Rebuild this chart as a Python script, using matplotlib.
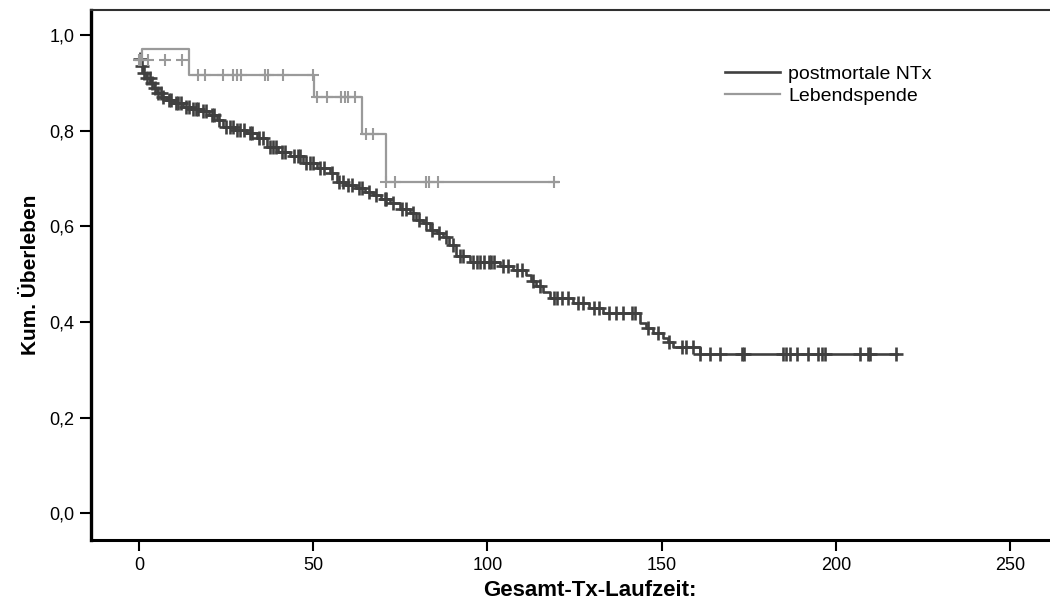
import numpy as np
import matplotlib.pyplot as plt

# Kaplan-Meier: postmortale NTx vs. Lebendspende
plt.rcParams['font.family'] = ['Liberation Sans', 'DejaVu Sans']

# postmortale NTx: event times and survival after each event
pm_time = [0, 0.5, 1.2, 2.0, 3.2, 4.2, 5.1, 6.5, 7.9, 10.0, 12.7, 15.0, 17.5, 20.0,
           22.3, 24.2, 27.5, 30.9, 33.8, 36.6, 40.0, 43.3, 47.1, 51.0, 54.8, 56.7,
           59.5, 62.4, 65.0, 67.2, 69.5, 72.0, 74.9, 77.7, 79.6, 81.5, 83.5, 85.5,
           87.3, 89.0, 91.1, 94.9, 103.5, 107.3, 111.2, 112.5, 114.0, 116.0, 117.9,
           124.5, 129.3, 133.1, 143.7, 145.5, 147.5, 150.4, 151.8, 153.2, 160.9, 217.5]
pm_surv = [0.950, 0.935, 0.920, 0.910, 0.899, 0.888, 0.878, 0.870, 0.864, 0.857, 0.850,
           0.846, 0.840, 0.832, 0.822, 0.808, 0.801, 0.794, 0.784, 0.766, 0.756, 0.746,
           0.732, 0.722, 0.711, 0.693, 0.686, 0.679, 0.672, 0.666, 0.657, 0.648, 0.637,
           0.627, 0.613, 0.606, 0.592, 0.585, 0.578, 0.560, 0.537, 0.526, 0.516, 0.509,
           0.498, 0.486, 0.474, 0.462, 0.450, 0.439, 0.429, 0.418, 0.397, 0.387, 0.376,
           0.366, 0.357, 0.348, 0.332, 0.332]
pm_cens = [0.3, 0.8, 1.5, 2.4, 3.0, 3.8, 4.5, 5.5, 6.2, 7.0, 8.5, 9.3, 10.5, 11.2, 12.0,
           13.5, 14.3, 15.5, 16.2, 17.0, 18.4, 19.2, 20.8, 21.5, 23.0, 25.0, 26.0, 27.0,
           28.2, 29.0, 30.0, 31.8, 32.5, 34.5, 35.5, 37.5, 38.5, 39.2, 41.0, 42.0, 44.5,
           45.5, 46.2, 48.0, 49.0, 50.0, 52.0, 53.0, 55.5, 57.5, 58.5, 60.0, 61.0, 63.0,
           64.0, 66.0, 68.0, 70.5, 71.0, 73.0, 75.5, 76.5, 78.5, 80.5, 82.5, 84.0, 86.0,
           88.0, 90.0, 92.0, 93.0, 96.0, 97.0, 98.0, 99.0, 100.5, 101.0, 102.0, 104.5,
           106.0, 108.5, 110.0, 113.0, 115.0, 119.0, 120.0, 121.5, 123.0, 126.0, 127.5,
           130.5, 132.0, 135.0, 137.0, 139.0, 141.5, 142.5, 146.0, 149.0, 152.0, 156.0,
           157.0, 159.0, 161.0, 164.0, 166.8, 173.0, 173.6, 184.8, 185.7, 186.9, 188.9,
           192.0, 194.9, 196.0, 196.9, 207.0, 209.2, 209.8, 217.3]

# Lebendspende
ls_time = [0.8, 0.8, 14.2, 50.2, 64.1, 71.0, 120.2]
ls_surv = [0.948, 0.970, 0.916, 0.871, 0.792, 0.693, 0.693]
ls_cens = [17.0, 18.9, 24.2, 27.0, 28.1, 29.3, 36.1, 37.1, 41.2, 50.0, 51.0, 54.0,
           58.1, 59.1, 60.0, 62.1, 65.1, 67.2, 71.0, 73.4, 82.5, 83.3, 85.8, 119.0]
ls_early_cens = [0.0, 0.3, 0.6, 2.6, 7.4, 12.2]
ls_early_surv = 0.948

dark = '#404040'
light = '#9a9a9a'


def step_value(times, surv, t):
    i = np.searchsorted(times, t, side='right') - 1
    return np.array(surv)[np.clip(i, 0, len(surv) - 1)]


fig = plt.figure(figsize=(10.5, 6.05), dpi=100)
ax = fig.add_axes([91 / 1050, 65 / 605, 959 / 1050, 530 / 605])

ax.plot(pm_time, pm_surv, drawstyle='steps-post', color=dark, lw=1.9, label='postmortale NTx')
ax.plot(pm_cens, step_value(pm_time, pm_surv, pm_cens), ls='none', marker='+',
        ms=10, mew=1.9, color=dark)

ax.plot(ls_time, ls_surv, drawstyle='steps-post', color=light, lw=1.6, label='Lebendspende')
ax.plot(ls_cens, step_value(ls_time[1:], ls_surv[1:], ls_cens), ls='none', marker='+',
        ms=9, mew=1.5, color=light)
ax.plot(ls_early_cens, [ls_early_surv] * len(ls_early_cens), ls='none', marker='+',
        ms=9, mew=1.5, color=light)

ax.set_xlim(-13.8, 261.5)
ax.set_ylim(-0.056, 1.052)
ax.set_xticks([0, 50, 100, 150, 200, 250])
ax.set_yticks([0.0, 0.2, 0.4, 0.6, 0.8, 1.0])
ax.set_yticklabels(['0,0', '0,2', '0,4', '0,6', '0,8', '1,0'])
ax.tick_params(axis='both', direction='out', length=8, width=1.5, labelsize=13,
               colors='black', pad=4)

ax.spines['right'].set_visible(False)
ax.spines['left'].set_linewidth(2.4)
ax.spines['bottom'].set_linewidth(2.2)
ax.spines['top'].set_linewidth(1.5)
ax.spines['top'].set_color('#303030')

ax.set_xlabel('Gesamt-Tx-Laufzeit:', fontsize=16, fontweight='bold')
ax.set_ylabel('Kum. Überleben', fontsize=15, fontweight='bold')
ax.xaxis.set_label_coords(0.52, -0.076)
ax.yaxis.set_label_coords(-0.053, 0.5)

ax.legend(loc='upper left', bbox_to_anchor=(0.661, 0.895), frameon=False,
          fontsize=14, handlelength=2.85, handletextpad=0.42, labelspacing=0.19,
          borderpad=0, borderaxespad=0)

plt.savefig('out.png', dpi=100)
